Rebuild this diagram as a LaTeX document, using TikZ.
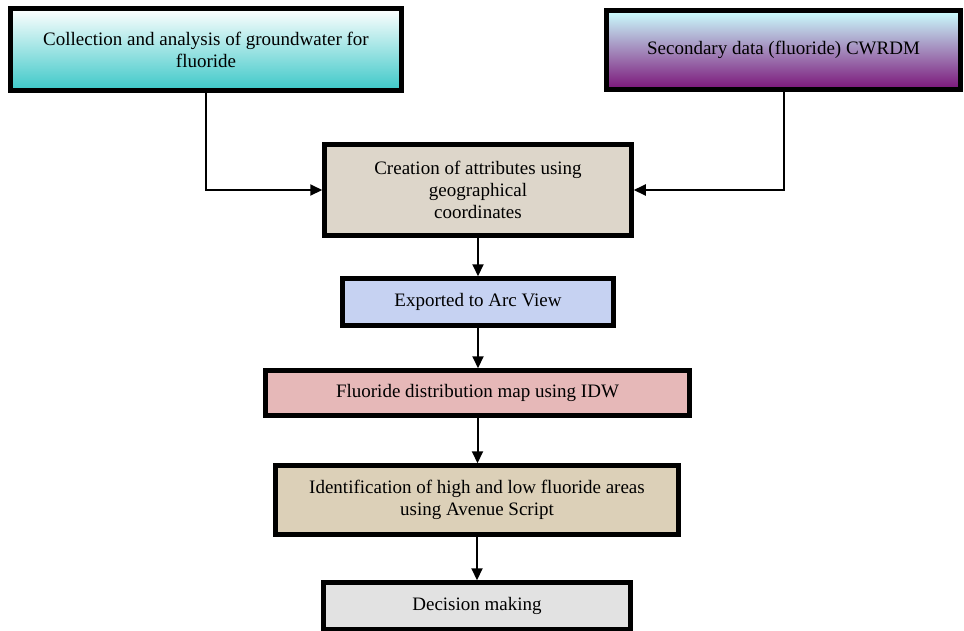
\documentclass[tikz,border=0pt]{standalone}
\usepackage{fontspec}
\setmainfont{Liberation Serif}
\newfontfamily\timesf{Liberation Serif}
\usetikzlibrary{positioning,arrows.meta}

\begin{document}
\begin{tikzpicture}[
    x=1pt, y=-1pt,
    box/.style={draw=black, line width=4.5pt, align=center, inner sep=2pt,
      font=\timesf\fontsize{19}{22}\selectfont},
    arr/.style={-{Triangle[length=12pt, width=11pt]}, line width=2pt},
  ]
    \definecolor{tealc}{HTML}{3CC8C8}
    \definecolor{cyanc}{HTML}{CCFFFF}
    \definecolor{purpc}{HTML}{7A1478}
    \definecolor{sandc}{HTML}{DDD6CA}
    \definecolor{bluec}{HTML}{C6D2F2}
    \definecolor{pinkc}{HTML}{E6B8B8}
    \definecolor{linen}{HTML}{DCD0B8}
    \definecolor{marble}{HTML}{E2E2E2}

    \useasboundingbox (0,0) rectangle (964,630);

    % ===== SOURCES =====
    \node[box, minimum width=391, minimum height=82, top color=white, bottom color=tealc]
      (coll) at (206, 49.5) {Collection and analysis of groundwater for\\fluoride};
    \node[box, minimum width=354, minimum height=79, top color=cyanc, bottom color=purpc]
      (second) at (783.5, 50) {Secondary data (fluoride) CWRDM};

    % ===== PROCESSING CHAIN =====
    \node[box, fill=sandc, minimum width=307, minimum height=91]
      (attr) at (478, 190) {Creation of attributes using\\geographical\\coordinates};
    \node[box, fill=bluec, minimum width=271, minimum height=47]
      (export) at (478, 302) {Exported to Arc View};
    \node[box, fill=pinkc, minimum width=424, minimum height=45]
      (idw) at (477.5, 393) {Fluoride distribution map using IDW};
    \node[box, fill=linen, minimum width=403, minimum height=69]
      (ident) at (477, 500) {Identification of high and low fluoride areas\\using Avenue Script};
    \node[box, fill=marble, minimum width=307, minimum height=47]
      (decide) at (477, 606) {Decision making};

    % ===== CONNECTORS =====
    \draw[arr] (coll.south) |- (attr.west);
    \draw[arr] (second.south) |- (attr.east);
    \draw[arr] (attr.south) -- (export.north);
    \draw[arr] (export.south) -- (export.south |- idw.north);
    \draw[arr] (idw.south) -- (idw.south |- ident.north);
    \draw[arr] (ident.south) -- (ident.south |- decide.north);

  \end{tikzpicture}
\end{document}
